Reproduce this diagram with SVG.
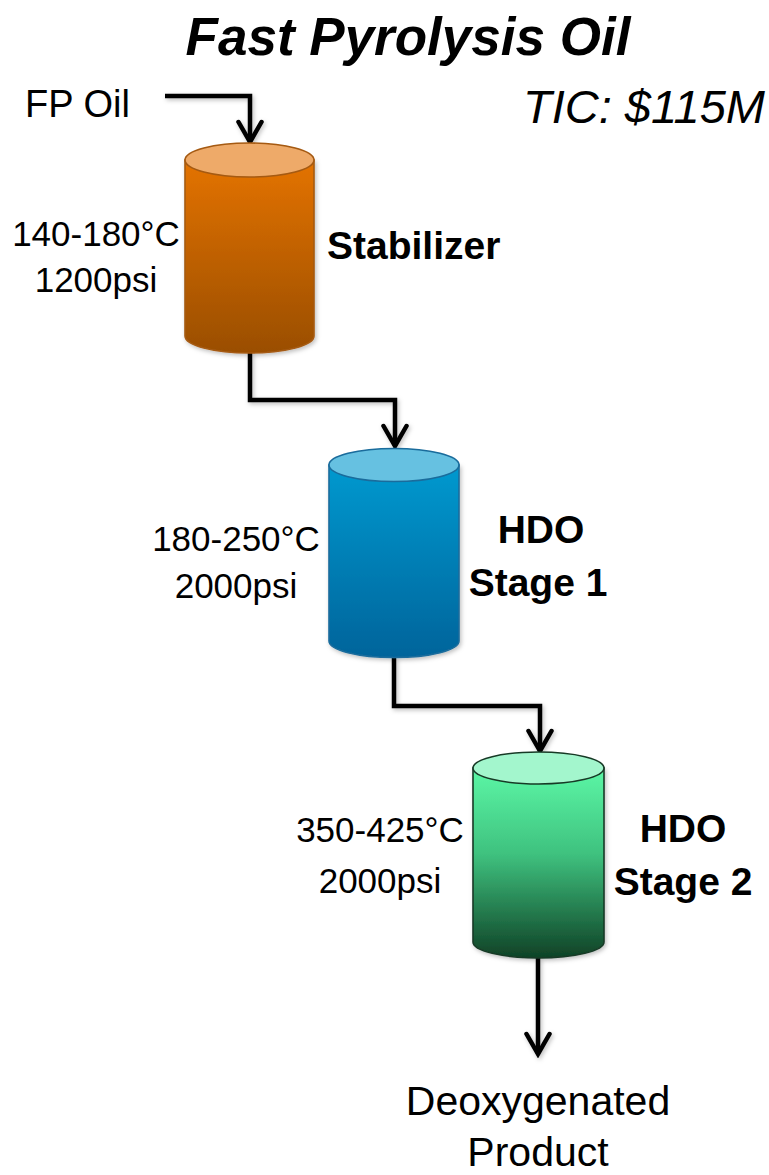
<svg xmlns="http://www.w3.org/2000/svg" width="769" height="1175" viewBox="0 0 769 1175">
  <style>
    text { font-family: "Liberation Sans", Arial, sans-serif; fill: #000; }
    .title { font-size: 53px; font-weight: bold; font-style: italic; }
    .tic { font-size: 47px; font-style: italic; }
    .io { font-size: 38px; }
    .cond { font-size: 35px; }
    .name { font-size: 39px; font-weight: bold; }
    .out { font-size: 41px; }
    .pipe { fill: none; stroke: #000; stroke-width: 4.5; stroke-linejoin: miter; stroke-linecap: butt; }
    .shell { stroke-width: 1.6; }
  </style>
  <defs>
    <marker id="chevron" viewBox="-24 -14 28 28" refX="0" refY="0" markerWidth="28" markerHeight="28" markerUnits="userSpaceOnUse" orient="auto">
      <path d="M-20,-11.5 L0,0 L-20,11.5" fill="none" stroke="#000" stroke-width="4.5" stroke-linecap="round" stroke-linejoin="miter"/>
    </marker>
    <filter id="soft" x="-20%" y="-20%" width="140%" height="140%">
      <feDropShadow dx="1.5" dy="2" stdDeviation="2" flood-color="#000" flood-opacity="0.25"/>
    </filter>
    <linearGradient id="orangeBody" x1="0" y1="0" x2="0" y2="1">
      <stop offset="0" stop-color="#e47300"/>
      <stop offset="1" stop-color="#9a4e00"/>
    </linearGradient>
    <linearGradient id="blueBody" x1="0" y1="0" x2="0" y2="1">
      <stop offset="0" stop-color="#0099cf"/>
      <stop offset="1" stop-color="#00649b"/>
    </linearGradient>
    <linearGradient id="greenBody" x1="0" y1="0" x2="0" y2="1">
      <stop offset="0" stop-color="#5cf7a6"/>
      <stop offset="0.45" stop-color="#3fc27f"/>
      <stop offset="1" stop-color="#0f4226"/>
    </linearGradient>
  </defs>

  <!-- headings -->
  <text class="title" x="408" y="55" text-anchor="middle">Fast Pyrolysis Oil</text>
  <text class="tic" x="765" y="123" text-anchor="end">TIC: $115M</text>

  <!-- piping between vessels -->
  <g id="connectors" filter="url(#soft)">
    <path class="pipe" d="M165,96 H250 V142" marker-end="url(#chevron)"/>
    <path class="pipe" d="M250,353 V400 H395 V446" marker-end="url(#chevron)"/>
    <path class="pipe" d="M394,658 V706 H540 V751" marker-end="url(#chevron)"/>
    <path class="pipe" d="M538,958 V1054" marker-end="url(#chevron)"/>
  </g>

  <!-- feed -->
  <g id="feed">
    <text class="io" x="25" y="117">FP Oil</text>
  </g>

  <!-- stabilizer vessel -->
  <g id="stabilizer">
    <path class="shell" filter="url(#soft)" d="M185,160 V336 A64.5,17 0 0 0 314,336 V160 Z" fill="url(#orangeBody)" stroke="#a55a12"/>
    <ellipse class="shell" cx="249.5" cy="160" rx="64.5" ry="17" fill="#eeaa69" stroke="#a55a12"/>
    <text class="cond" x="96" y="246" text-anchor="middle">140-180°C</text>
    <text class="cond" x="96" y="292" text-anchor="middle">1200psi</text>
    <text class="name" x="327" y="259">Stabilizer</text>
  </g>

  <!-- first hydrodeoxygenation stage -->
  <g id="hdo-stage-1">
    <path class="shell" filter="url(#soft)" d="M329,465 V641 A65,16.5 0 0 0 459,641 V465 Z" fill="url(#blueBody)" stroke="#1a6c9c"/>
    <ellipse class="shell" cx="394" cy="465" rx="65" ry="16.5" fill="#66c1e1" stroke="#1a6c9c"/>
    <text class="cond" x="236" y="551" text-anchor="middle">180-250°C</text>
    <text class="cond" x="236" y="598" text-anchor="middle">2000psi</text>
    <text class="name" x="541" y="543" text-anchor="middle">HDO</text>
    <text class="name" x="538" y="596" text-anchor="middle">Stage 1</text>
  </g>

  <!-- second hydrodeoxygenation stage -->
  <g id="hdo-stage-2">
    <path class="shell" filter="url(#soft)" d="M473,768 V942 A65.5,16 0 0 0 604,942 V768 Z" fill="url(#greenBody)" stroke="#173a26"/>
    <ellipse class="shell" cx="538.5" cy="768" rx="65.5" ry="16" fill="#a3f6cd" stroke="#173a26"/>
    <text class="cond" x="380" y="842" text-anchor="middle">350-425°C</text>
    <text class="cond" x="380" y="893" text-anchor="middle">2000psi</text>
    <text class="name" x="683" y="842" text-anchor="middle">HDO</text>
    <text class="name" x="683" y="895" text-anchor="middle">Stage 2</text>
  </g>

  <!-- product -->
  <g id="product">
    <text class="out" x="538" y="1115" text-anchor="middle">Deoxygenated</text>
    <text class="out" x="538" y="1166" text-anchor="middle">Product</text>
  </g>
</svg>
